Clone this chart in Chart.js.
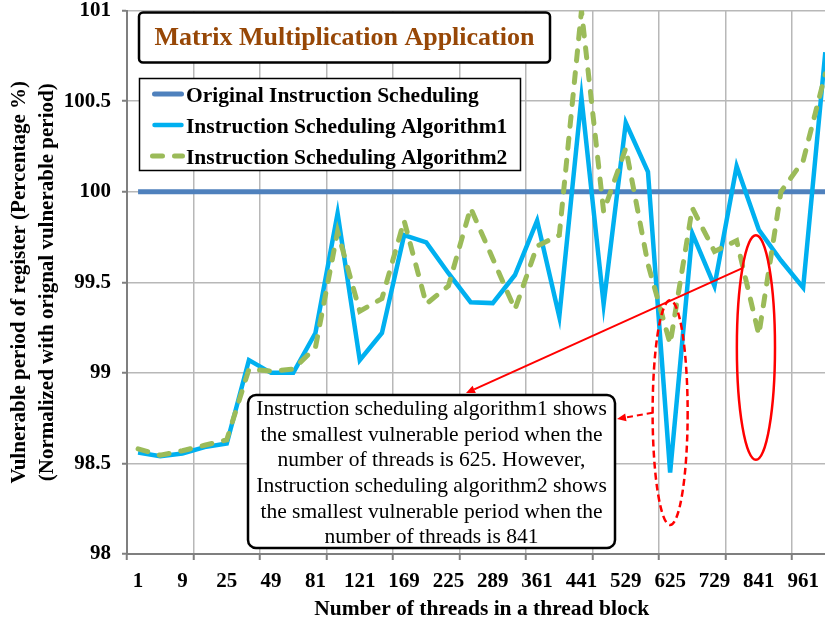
<!DOCTYPE html>
<html>
<head>
<meta charset="utf-8">
<title>Matrix Multiplication Application</title>
<script src="https://cdn.jsdelivr.net/npm/chart.js@4.4.1/dist/chart.umd.min.js"></script>
<style>
  html, body { margin: 0; padding: 0; background: #ffffff; overflow: hidden; }
  #wrap { position: relative; width: 840px; height: 626px; }
  canvas { display: block; }
</style>
</head>
<body>
<div id="wrap"><canvas id="chart" width="840" height="626"></canvas></div>
<script>
// Threads per block (x categories)
const threadCounts = [1, 4, 9, 16, 25, 36, 49, 64, 81, 100, 121, 144, 169, 196, 225, 256,
  289, 324, 361, 400, 441, 484, 529, 576, 625, 676, 729, 784, 841, 900, 961, 1024];

// Vulnerable period of register, % of the original schedule
const originalScheduling = [100, 100, 100, 100, 100, 100, 100, 100, 100, 100, 100, 100, 100, 100, 100, 100,
  100, 100, 100, 100, 100, 100, 100, 100, 100, 100, 100, 100, 100, 100, 100, 100];
const algorithm1 = [98.56, 98.54, 98.555, 98.59, 98.61, 99.07, 99.0, 99.0, 99.22, 99.88, 99.07, 99.22,
  99.76, 99.72, 99.55, 99.39, 99.385, 99.54, 99.84, 99.31, 100.52, 99.38, 100.38, 100.11,
  98.45, 99.77, 99.48, 100.14, 99.79, 99.62, 99.47, 100.77];
const algorithm2 = [98.58, 98.545, 98.57, 98.60, 98.63, 99.02, 99.01, 99.02, 99.14, 99.78, 99.34, 99.41,
  99.84, 99.38, 99.48, 99.91, 99.63, 99.35, 99.70, 99.76, 101.0, 99.89, 100.24, 99.6,
  99.16, 99.91, 99.67, 99.73, 99.21, 100.0, 100.17, 100.65];

// Value axis ticks
const yTickValues = [98, 98.5, 99, 99.5, 100, 100.5, 101];

const seriesNames = ['Original Instruction Scheduling', 'Instruction Scheduling Algorithm1', 'Instruction Scheduling Algorithm2'];
const chartTitle = 'Matrix Multiplication Application';
const noteLines = [
  'Instruction scheduling algorithm1 shows',
  'the smallest vulnerable period when the',
  'number of threads is 625. However,',
  'Instruction scheduling algorithm2 shows',
  'the smallest vulnerable period when the',
  'number of threads is 841'
];

const SERIF = '"Liberation Serif", "Times New Roman", serif';

// Ellipses that circle the minimum of each algorithm (category index / value units)
const focusMarks = [
  { index: 24, top: 99.40, bottom: 98.16, halfWidth: 0.79, dashed: true },
  { index: 27.87, top: 99.76, bottom: 98.52, halfWidth: 0.86, dashed: false }
];

function roundRectPath(ctx, x, y, w, h, r) {
  ctx.beginPath();
  ctx.moveTo(x + r, y);
  ctx.lineTo(x + w - r, y);
  ctx.arcTo(x + w, y, x + w, y + r, r);
  ctx.lineTo(x + w, y + h - r);
  ctx.arcTo(x + w, y + h, x + w - r, y + h, r);
  ctx.lineTo(x + r, y + h);
  ctx.arcTo(x, y + h, x, y + h - r, r);
  ctx.lineTo(x, y + r);
  ctx.arcTo(x, y, x + r, y, r);
  ctx.closePath();
}

function arrow(ctx, x1, y1, x2, y2, dashed) {
  const ang = Math.atan2(y2 - y1, x2 - x1);
  const headLen = 9, headW = 4;
  const bx = x2 - headLen * Math.cos(ang), by = y2 - headLen * Math.sin(ang);
  ctx.save();
  ctx.strokeStyle = '#ff0000';
  ctx.fillStyle = '#ff0000';
  ctx.lineWidth = 2;
  ctx.setLineDash(dashed ? [6, 4] : []);
  ctx.beginPath();
  ctx.moveTo(x1, y1);
  ctx.lineTo(bx, by);
  ctx.stroke();
  ctx.setLineDash([]);
  ctx.beginPath();
  ctx.moveTo(x2, y2);
  ctx.lineTo(bx + headW * Math.sin(ang), by - headW * Math.cos(ang));
  ctx.lineTo(bx - headW * Math.sin(ang), by + headW * Math.cos(ang));
  ctx.closePath();
  ctx.fill();
  ctx.restore();
}

// Title box, legend, note and red callouts drawn over the plot
const overlayPlugin = {
  id: 'overlay',
  afterDraw(chart) {
    const ctx = chart.ctx;
    const xs = chart.scales.x, ys = chart.scales.y;
    ctx.save();

    // Title box
    roundRectPath(ctx, 139, 12.5, 411, 50, 4);
    ctx.fillStyle = '#ffffff';
    ctx.fill();
    ctx.lineWidth = 2.5;
    ctx.strokeStyle = '#000000';
    ctx.stroke();
    ctx.fillStyle = '#974706';
    ctx.font = 'bold 26px ' + SERIF;
    ctx.textAlign = 'center';
    ctx.textBaseline = 'middle';
    ctx.fillText(chartTitle, 344.5, 38.5);

    // Legend box
    ctx.beginPath();
    ctx.rect(139.5, 78.5, 381, 92);
    ctx.fillStyle = '#ffffff';
    ctx.fill();
    ctx.lineWidth = 1.5;
    ctx.strokeStyle = '#000000';
    ctx.stroke();
    chart.data.datasets.forEach((ds, i) => {
      const rowY = 94 + i * 31;
      ctx.save();
      ctx.strokeStyle = ds.borderColor;
      ctx.lineWidth = ds.borderWidth;
      ctx.lineCap = 'round';
      ctx.setLineDash(ds.borderDash || []);
      ctx.beginPath();
      if (ds.borderDash) {
        ctx.moveTo(152.5, rowY);
        ctx.lineTo(182.5, rowY);
      } else {
        ctx.moveTo(154.5, rowY);
        ctx.lineTo(181.5, rowY);
      }
      ctx.stroke();
      ctx.restore();
      ctx.fillStyle = '#000000';
      ctx.font = 'bold 21.5px ' + SERIF;
      ctx.textAlign = 'left';
      ctx.textBaseline = 'middle';
      ctx.fillText(ds.label, 186, rowY + 2.7);
    });

    // Note box
    const note = { x: 248, y: 395, w: 367, h: 153 };
    roundRectPath(ctx, note.x, note.y, note.w, note.h, 8);
    ctx.fillStyle = '#ffffff';
    ctx.fill();
    ctx.lineWidth = 2.5;
    ctx.strokeStyle = '#000000';
    ctx.stroke();
    ctx.fillStyle = '#000000';
    ctx.font = '21.5px ' + SERIF;
    ctx.textAlign = 'center';
    ctx.textBaseline = 'middle';
    noteLines.forEach((t, i) => ctx.fillText(t, note.x + note.w / 2, 409.5 + i * 25.6));

    // Red ellipses around the minima
    const geo = focusMarks.map(m => {
      const cx = xs.getPixelForValue(m.index);
      const rx = xs.getPixelForValue(m.index + m.halfWidth) - cx;
      const yTop = ys.getPixelForValue(m.top), yBot = ys.getPixelForValue(m.bottom);
      return { cx, cy: (yTop + yBot) / 2, rx, ry: (yBot - yTop) / 2, dashed: m.dashed };
    });
    geo.forEach(g => {
      ctx.save();
      ctx.strokeStyle = '#ff0000';
      ctx.lineWidth = 2.5;
      ctx.setLineDash(g.dashed ? [7, 4] : []);
      ctx.beginPath();
      ctx.ellipse(g.cx, g.cy, g.rx, g.ry, 0, 0, Math.PI * 2);
      ctx.stroke();
      ctx.restore();
    });

    // Callout arrows from the ellipses to the note
    const solid = geo[1], dashed = geo[0];
    arrow(ctx, solid.cx - solid.rx * 0.707, solid.cy - solid.ry * 0.707, note.x + 218, note.y - 2, false);
    arrow(ctx, dashed.cx - dashed.rx, dashed.cy, note.x + note.w + 2, 419, true);

    ctx.restore();
  }
};

new Chart(document.getElementById('chart'), {
  type: 'line',
  data: {
    labels: threadCounts,
    datasets: [
      { label: seriesNames[0], data: originalScheduling, borderColor: '#4f81bd', borderWidth: 5,
        pointRadius: 0, tension: 0, order: 3, borderCapStyle: 'butt' },
      { label: seriesNames[1], data: algorithm1, borderColor: '#00b0f0', borderWidth: 4.5,
        pointRadius: 0, tension: 0, order: 2, borderJoinStyle: 'miter' },
      { label: seriesNames[2], data: algorithm2, borderColor: '#9bbb59', borderWidth: 5,
        borderDash: [10, 12], borderCapStyle: 'round', pointRadius: 0, tension: 0, order: 1 }
    ]
  },
  options: {
    responsive: false,
    animation: false,
    devicePixelRatio: 1,
    layout: { padding: { top: 10.5, right: 3.6, bottom: 0, left: 0 } },
    plugins: { legend: { display: false }, tooltip: { enabled: false }, title: { display: false } },
    scales: {
      x: {
        type: 'category',
        offset: true,
        grid: {
          offset: true,
          color: c => (c.index % 3 === 0 ? '#b8b8b8' : 'rgba(0,0,0,0)'),
          lineWidth: 1.5,
          tickLength: 6,
          tickColor: c => (c.index % 3 === 0 ? '#7f7f7f' : 'rgba(0,0,0,0)'),
          tickWidth: 2
        },
        border: { color: '#7f7f7f', width: 2 },
        ticks: {
          autoSkip: false, maxRotation: 0, minRotation: 0, padding: 9, color: '#000000',
          font: { family: SERIF, size: 21, weight: 'bold' },
          callback: function (v, i) { return i % 2 === 0 ? String(this.getLabelForValue(v)) : ''; }
        },
        title: {
          display: true, text: 'Number of threads in a thread block', color: '#000000',
          font: { family: SERIF, size: 21.5, weight: 'bold' }, padding: { top: 0, bottom: 4 }
        },
        afterFit: s => { s.height = 72; }
      },
      y: {
        min: 98, max: 101,
        afterBuildTicks: s => { s.ticks = yTickValues.map(v => ({ value: v })); },
        grid: { color: '#b8b8b8', lineWidth: 1.5, tickLength: 5, tickColor: '#7f7f7f', tickWidth: 2 },
        border: { color: '#7f7f7f', width: 2 },
        ticks: {
          padding: 11, color: '#000000',
          font: { family: SERIF, size: 21, weight: 'bold', lineHeight: 1 },
          callback: v => String(v)
        },
        title: {
          display: true,
          text: ['Vulnerable period of register (Percentage %)', '(Normalized with orignal vulnerable period)'],
          color: '#000000',
          font: { family: SERIF, size: 21, weight: 'bold', lineHeight: '28px' },
          padding: { top: 6, bottom: 0 }
        },
        afterFit: s => { s.width = 127; s.paddingTop = 0; s.paddingBottom = 0; }
      }
    }
  },
  plugins: [overlayPlugin]
});
</script>
</body>
</html>
